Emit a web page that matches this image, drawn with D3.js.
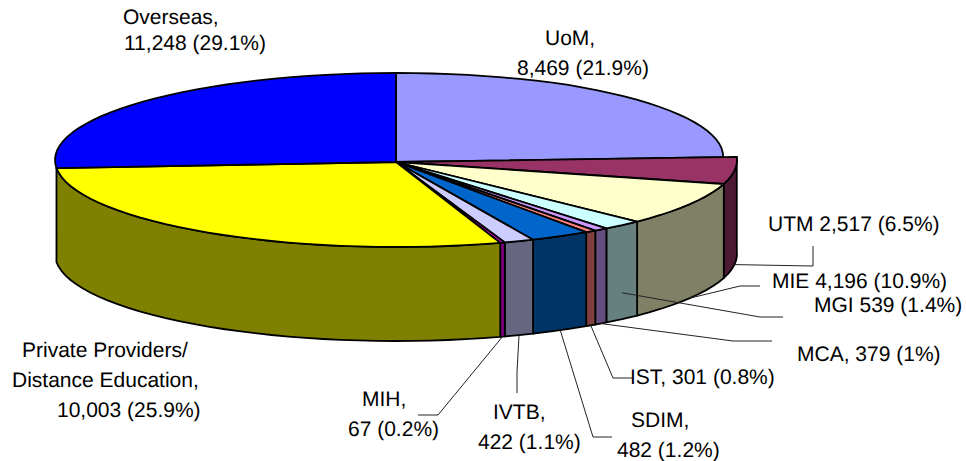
<!DOCTYPE html>
<html>
<head>
<meta charset="utf-8">
<script src="https://cdn.jsdelivr.net/npm/d3@7"></script>
<style>
body { margin: 0; background: #fff; }
text { font-family: "Liberation Sans", Arial, sans-serif; font-size: 21px; fill: #000; text-rendering: geometricPrecision; }
</style>
</head>
<body>
<div id="chart"></div>
<script>
var names = ["UoM", "UTM", "MIE", "MGI", "MCA", "IST", "SDIM", "IVTB", "MIH", "Private Providers/ Distance Education", "Overseas"];
var values = [8469, 2517, 4196, 539, 379, 301, 482, 422, 67, 10003, 11248];
var colors = ["#9999ff", "#993366", "#ffffcc", "#ccffff", "#cc99ff", "#ff8080", "#0066cc", "#ccccff", "#ff00ff", "#ffff00", "#0000ff"];
var labelLines = [
	["UoM,", "8,469 (21.9%)"],
	["UTM 2,517 (6.5%)"],
	["MIE 4,196 (10.9%)"],
	["MGI 539 (1.4%)"],
	["MCA, 379 (1%)"],
	["IST, 301 (0.8%)"],
	["SDIM,", "482 (1.2%)"],
	["IVTB,", "422 (1.1%)"],
	["MIH,", "67 (0.2%)"],
	["Private Providers/", "Distance Education,", "10,003 (25.9%)"],
	["Overseas,", "11,248 (29.1%)"]
];

// where each label line starts: [x, baseline]
var labelPos = [
	[[545, 45], [517, 75]],
	[[768, 231]],
	[[772, 288]],
	[[814, 312]],
	[[797, 361]],
	[[630, 384]],
	[[631, 427], [617, 457]],
	[[493, 419], [478, 449]],
	[[362, 406], [348, 436]],
	[[22, 357], [12, 387], [57, 417]],
	[[123, 24], [124, 50]]
];

// leader elbows, the first point of each leader comes from the slice
var leaderElbows = [
	null,
	[[813, 266], [813, 246]],
	[[740, 286], [760, 286]],
	[[760, 317], [783, 317]],
	[[733, 341], [772, 341]],
	[[613, 378], [632, 378]],
	[[593, 437], [612, 437]],
	[[517, 372], [517, 393]],
	[[438, 415], [418, 415]],
	null,
	null
];
var leaderDrop = {3: 0.72}; // MGI leader stops part way down the wall

var width = 966, height = 461;
var cx = 396, cy = 160;      // centre of the top ellipse
var apex = [396, 162];       // where the slices meet
var rx = 341, ry = 87;
var depth = 94;

// the old 3-D view draws the slices foreshortened, so the angle on screen
// is not the true share of the circle: true degrees -> screen degrees
var tilt = d3.scaleLinear()
	.domain([0, 78.94, 102.4, 141.51, 146.53, 152.87, 157.36, 161.92, 255.16, 360])
	.range([0, 88, 106, 135, 141.9, 146.1, 156.3, 162.2, 264.7, 360]);

// first slice sits a little inside the ellipse at its far end
var uomInset = d3.scaleLinear().domain([30, 88]).range([1, 0.96]).clamp(true);

var slices = d3.pie().sort(null).value(d => d)(values).map(function (s, i) {
	return {
		index: i,
		a0: tilt(s.startAngle * 180 / Math.PI),
		a1: tilt(s.endAngle * 180 / Math.PI)
	};
});

function rimPoint(deg, i) {
	var t = deg * Math.PI / 180;
	var k = i === 0 ? uomInset(deg) : 1;
	return [cx + rx * k * Math.sin(t), cy - ry * k * Math.cos(t)];
}

function rim(s) {
	var n = Math.max(1, Math.round((s.a1 - s.a0) / 3));
	return d3.range(n + 1).map(j => rimPoint(s.a0 + (s.a1 - s.a0) * j / n, s.index));
}

function half(c) {
	var r = d3.rgb(c);
	return d3.rgb(r.r / 2, r.g / 2, r.b / 2).formatHex();
}

var line = d3.line();

var svg = d3.select("#chart").append("svg")
	.attr("width", width)
	.attr("height", height);

// walls, only the slices on the near side show one
svg.append("g").selectAll("path")
	.data(slices.filter(s => s.a0 >= 80 && s.a1 <= 270))
	.join("path")
	.attr("d", function (s) {
		var top = rim(s);
		var bottom = top.map(p => [p[0], p[1] + depth]).reverse();
		return line(top.concat(bottom)) + "Z";
	})
	.attr("fill", s => half(colors[s.index]))
	.attr("stroke", "#000")
	.attr("stroke-width", 1.8)
	.attr("stroke-linejoin", "round");

// top faces
svg.append("g").selectAll("path")
	.data(slices)
	.join("path")
	.attr("d", s => line([apex].concat(rim(s))) + "Z")
	.attr("fill", s => colors[s.index])
	.attr("stroke", "#000")
	.attr("stroke-width", 1.8)
	.attr("stroke-linejoin", "round");

// leaders
svg.append("g").selectAll("path")
	.data(slices.filter(s => leaderElbows[s.index]))
	.join("path")
	.attr("d", function (s) {
		var p = rimPoint((s.a0 + s.a1) / 2, s.index);
		var drop = leaderDrop[s.index] === undefined ? 1 : leaderDrop[s.index];
		return line([[p[0], p[1] + depth * drop]].concat(leaderElbows[s.index]));
	})
	.attr("fill", "none")
	.attr("stroke", "#222")
	.attr("stroke-width", 1);

// labels
var labels = svg.append("g").selectAll("g")
	.data(names)
	.join("g");

labels.selectAll("text")
	.data((d, i) => labelLines[i].map((t, k) => ({text: t, pos: labelPos[i][k]})))
	.join("text")
	.attr("x", d => d.pos[0])
	.attr("y", d => d.pos[1])
	.text(d => d.text);
</script>
</body>
</html>
